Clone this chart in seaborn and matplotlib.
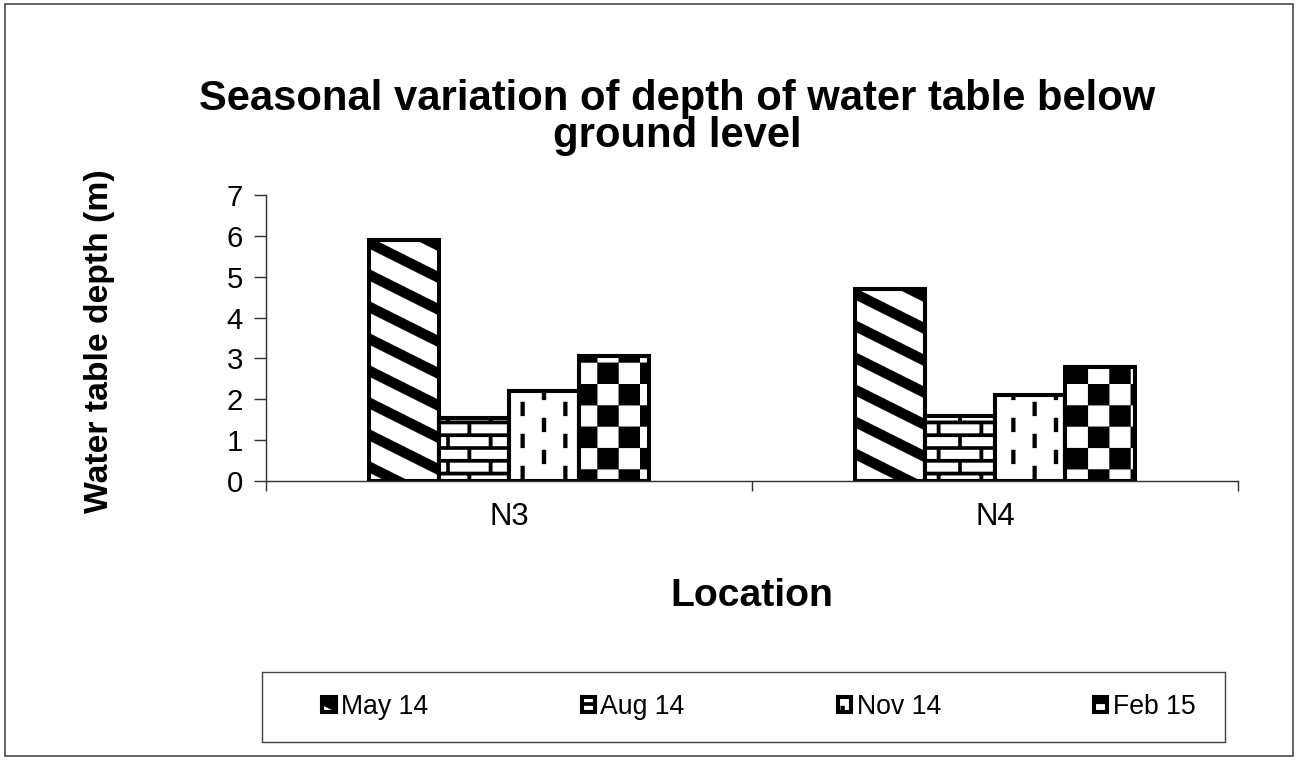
import numpy as np
import pandas as pd
import matplotlib
matplotlib.use('Agg')
import matplotlib.pyplot as plt
import matplotlib.hatch as mhatch
from matplotlib.path import Path
from matplotlib.patches import Rectangle
import seaborn as sns

# data
locations = ['N3', 'N4']
seasons = ['May 14', 'Aug 14', 'Nov 14', 'Feb 15']
depth_n3 = [5.9, 1.55, 2.2, 3.05]
depth_n4 = [4.7, 1.6, 2.1, 2.8]
y_ticks = [0, 1, 2, 3, 4, 5, 6, 7]

df = pd.DataFrame({
    'Location': np.repeat(locations, len(seasons)),
    'Season': seasons * len(locations),
    'Depth': depth_n3 + depth_n4,
})

DPI = 128  # hatch tile = 1 inch = 128 px


# custom fill patterns (stripes, bricks, dashes, checkerboard) as filled quads
def _rect(x0, y0, x1, y1):
    return [(x0, y0), (x1, y0), (x1, y1), (x0, y1)]


def _stripes():
    polys = []
    p, t = 0.25, 0.09
    for k in range(-3, 8):
        c = k * p
        polys.append([(0, c), (1, c - 0.5), (1, c - 0.5 + t), (0, c + t)])
    return polys


def _bricks():
    polys = []
    h, m, L = 0.1, 0.028, 1 / 3
    for r in range(10):
        y = r * h
        polys.append(_rect(0, y - m / 2, 1, y + m / 2))
        for j in range(-1, 4):
            x = (j + 0.5 * (r % 2)) * L
            polys.append(_rect(x - m / 2, y, x + m / 2, y + h))
    polys.append(_rect(0, 1 - m / 2, 1, 1 + m / 2))
    return polys


def _dashes():
    polys = []
    w, ln = 0.032, 0.11
    for c in range(6):
        x = (c + 0.5) / 6
        for k in range(-1, 5):
            y = k * 0.25 + 0.125 * (c % 2)
            polys.append(_rect(x - w / 2, y, x + w / 2, y + ln))
    return polys


def _checker():
    s = 1 / 6
    return [_rect(i * s, j * s, (i + 1) * s, (j + 1) * s)
            for i in range(6) for j in range(6) if (i + j) % 2 == 0]


tile_polys = {'\\': _stripes(), '-': _bricks(), '|': _dashes(), 'x': _checker()}


class PolyHatch(mhatch.HatchPatternBase):
    def __init__(self, hatch, density):
        self.polys = []
        for ch in set(hatch):
            self.polys += tile_polys.get(ch, [])
        self.num_vertices = 5 * len(self.polys)

    def set_vertices_and_codes(self, vertices, codes):
        for i, p in enumerate(self.polys):
            vertices[5 * i:5 * i + 4] = p
            vertices[5 * i + 4] = p[0]
            codes[5 * i] = Path.MOVETO
            codes[5 * i + 1:5 * i + 4] = Path.LINETO
            codes[5 * i + 4] = Path.CLOSEPOLY


mhatch._hatch_types[:] = [PolyHatch]

sns.set_theme(style='white')
plt.rcParams['font.family'] = ['Liberation Sans', 'DejaVu Sans']
plt.rcParams['hatch.linewidth'] = 0.1
plt.rcParams['hatch.color'] = 'black'
for k in ['text.color', 'axes.labelcolor', 'xtick.color', 'ytick.color']:
    plt.rcParams[k] = 'black'

fig = plt.figure(figsize=(1298 / DPI, 760 / DPI), dpi=DPI)
ax = fig.add_axes([266 / 1298, 279 / 760, 972 / 1298, 286 / 760])

sns.barplot(data=df, x='Location', y='Depth', hue='Season', ax=ax,
            palette=['white'] * 4, saturation=1, width=0.576, gap=0,
            edgecolor='black', linewidth=2.3, errorbar=None, legend=False)

hatches = ['\\', '-', '|', 'x']
for cont, h in zip(ax.containers, hatches):
    for bar in cont:
        bar.set_hatch(h)

ax.set_xlim(-0.5, 1.5)
ax.set_ylim(0, 7)
ax.set_yticks(y_ticks)
for s in ['top', 'right']:
    ax.spines[s].set_visible(False)
for s in ['left', 'bottom']:
    ax.spines[s].set_color('#333333')
    ax.spines[s].set_linewidth(0.8)

ax.tick_params(axis='y', direction='out', length=7, width=0.8, color='#333333',
               pad=6, labelsize=16.5, left=True)
ax.set_xticks([-0.5, 0.5, 1.5], minor=True)
ax.tick_params(axis='x', which='minor', direction='out', length=5.5, width=0.8,
               color='#333333', bottom=True)
ax.tick_params(axis='x', which='major', length=0, pad=12, labelsize=17.5)

ax.set_xlabel('Location', fontsize=22, fontweight='bold')
ax.set_ylabel('Water table depth (m)', fontsize=19, fontweight='bold')
ax.xaxis.set_label_coords(0.5, -0.34)
ax.yaxis.set_label_coords(-0.155, 0.49)

fig.text(677 / 1298, 1 - 79 / 760,
         'Seasonal variation of depth of water table below\nground level',
         ha='center', va='top', fontsize=23.5, fontweight='bold', linespacing=0.9)

# outer frame and legend box
fig.patches.append(Rectangle((5 / 1298, 4 / 760), 1288 / 1298, 752 / 760,
                             transform=fig.transFigure, fill=False,
                             edgecolor='#444444', linewidth=0.9))
fig.patches.append(Rectangle((262 / 1298, 1 - 742 / 760), 963 / 1298, 70 / 760,
                             transform=fig.transFigure, fill=False,
                             edgecolor='#444444', linewidth=0.8))

ax.legend(ax.containers, seasons, ncol=4, frameon=False, loc='center',
          bbox_to_anchor=(759 / 1298, 1 - 707 / 760),
          bbox_transform=fig.transFigure, fontsize=15,
          handlelength=0.5, handleheight=0.5, handletextpad=0.2,
          columnspacing=5.75)

fig.savefig('out.png', dpi=DPI)
